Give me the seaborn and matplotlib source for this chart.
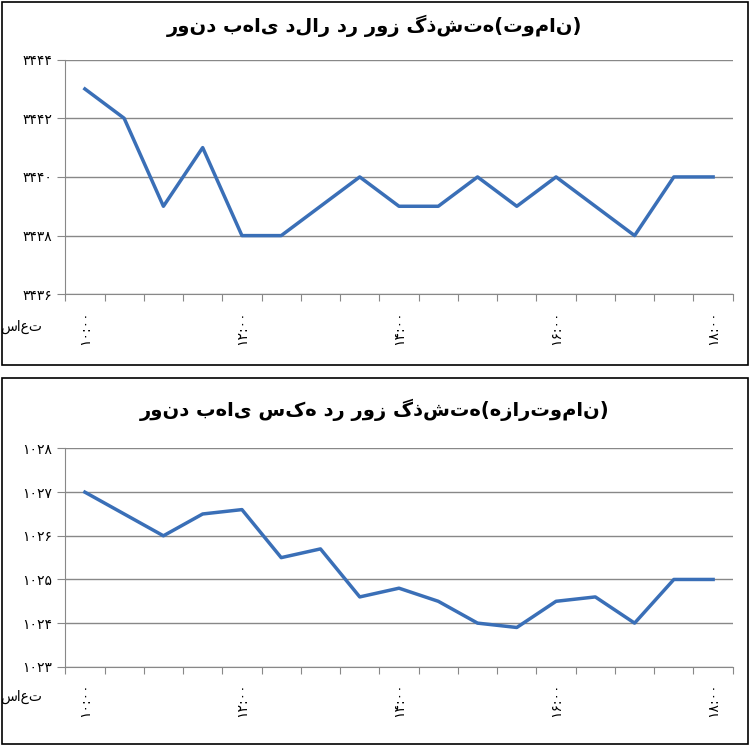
import matplotlib
matplotlib.use("Agg")
import matplotlib.pyplot as plt
import seaborn as sns
import pandas as pd
from matplotlib.patches import Rectangle

plt.rcParams["font.family"] = "DejaVu Sans"

times = ["۱۰:۰۰", "۱۰:۳۰", "۱۱:۰۰", "۱۱:۳۰", "۱۲:۰۰", "۱۲:۳۰", "۱۳:۰۰", "۱۳:۳۰", "۱۴:۰۰",
         "۱۴:۳۰", "۱۵:۰۰", "۱۵:۳۰", "۱۶:۰۰", "۱۶:۳۰", "۱۷:۰۰", "۱۷:۳۰", "۱۸:۰۰"]
dollar = [3443, 3442, 3439, 3441, 3438, 3438, 3439, 3440, 3439, 3439, 3440, 3439, 3440, 3439, 3438, 3440, 3440]
coin = [1027, 1026.5, 1026, 1026.5, 1026.6, 1025.5, 1025.7, 1024.6, 1024.8, 1024.5, 1024.0, 1023.9,
        1024.5, 1024.6, 1024.0, 1025.0, 1025.0]
title_dollar = "روند بهای دلار در روز گذشته(تومان)"
title_coin = "روند بهای سکه در روز گذشته(هزارتومان)"
hour_label = "ساعت"
dollar_ticks = [3436, 3438, 3440, 3442, 3444]
coin_ticks = [1023, 1024, 1025, 1026, 1027, 1028]

fa = str.maketrans("0123456789", "۰۱۲۳۴۵۶۷۸۹")

fig = plt.figure(figsize=(7.5, 7.45), dpi=100)
fig.patches.append(Rectangle((0.002, 0.51), 0.995, 0.487, transform=fig.transFigure,
                             fill=False, edgecolor="black", lw=1.2))
fig.patches.append(Rectangle((0.002, 0.002), 0.995, 0.49, transform=fig.transFigure,
                             fill=False, edgecolor="black", lw=1.2))

def panel(rect, vals, ticks, title, title_y):
    ax = fig.add_axes(rect)
    df = pd.DataFrame({"x": range(len(vals)), "y": vals})
    sns.lineplot(data=df, x="x", y="y", ax=ax, color="#3a6fb7", lw=2.5)
    ax.set_ylim(ticks[0], ticks[-1])
    ax.set_yticks(ticks)
    ax.set_yticklabels([str(t).translate(fa) for t in ticks], fontsize=10)
    ax.set_xlim(-0.5, len(vals) - 0.5)
    ax.set_xticks([i - 0.5 for i in range(len(vals) + 1)])
    ax.set_xticklabels([])
    for i in range(0, len(vals), 4):
        ax.text(i, ticks[0] - (ticks[-1] - ticks[0]) * 0.07, times[i], rotation=90,
                ha="center", va="top", fontsize=10)
    ax.text(-0.035, -0.14, hour_label, transform=ax.transAxes, ha="right", va="center", fontsize=10)
    ax.grid(axis="y", color="#888888", lw=1)
    ax.set_axisbelow(True)
    for s in ["top", "right"]:
        ax.spines[s].set_visible(False)
    for s in ["left", "bottom"]:
        ax.spines[s].set_color("#888888")
    ax.tick_params(axis="y", length=6, color="#888888")
    ax.tick_params(axis="x", length=5, color="#888888")
    ax.set_xlabel("")
    ax.set_ylabel("")
    fig.text(0.5, title_y, title, ha="center", va="center", fontsize=14, fontweight="bold")
    return ax

panel([0.087, 0.605, 0.89, 0.315], dollar, dollar_ticks, title_dollar, 0.965)
panel([0.087, 0.105, 0.89, 0.293], coin, coin_ticks, title_coin, 0.45)

fig.savefig("out.png", dpi=100)
